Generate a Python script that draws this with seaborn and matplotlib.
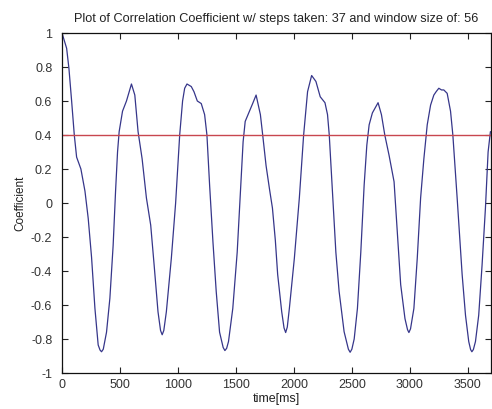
import matplotlib
matplotlib.use("Agg")
import matplotlib.pyplot as plt
import seaborn as sns
import pandas as pd

time_ms = [0, 40, 60, 83, 106, 126, 163, 198, 226, 255, 284, 312, 328, 341, 356, 384, 413, 441, 462, 479, 493, 522,
           556, 599, 628, 656, 691, 728, 765, 794, 828, 850, 864, 878, 900, 943, 980, 1015, 1040, 1058, 1078, 1115, 1138,
           1167, 1201, 1230, 1250, 1273, 1302, 1330, 1359, 1390, 1405, 1420, 1436, 1473, 1511, 1539, 1562, 1580, 1617,
           1645, 1674, 1711, 1731, 1760, 1790, 1815, 1840, 1860, 1895, 1915, 1929, 1943, 1961, 2004, 2047, 2084, 2118, 2153,
           2190, 2227, 2268, 2290, 2305, 2333, 2362, 2390, 2433, 2470, 2485, 2500, 2520, 2548, 2577, 2606, 2629, 2649,
           2677, 2706, 2726, 2755, 2784, 2821, 2864, 2892, 2921, 2958, 2980, 2992, 3006, 3035, 3064, 3093, 3121, 3150,
           3179, 3207, 3227, 3250, 3273, 3293, 3322, 3351, 3371, 3408, 3451, 3480, 3508, 3524, 3535, 3548, 3566, 3594,
           3623, 3652, 3675, 3695]
coefficient = [1.00, 0.91, 0.79, 0.60, 0.40, 0.27, 0.20, 0.07, -0.09, -0.32, -0.62, -0.835, -0.865, -0.875, -0.86,
               -0.76, -0.56, -0.25, 0.07, 0.30, 0.42, 0.54, 0.60, 0.70, 0.635, 0.42, 0.26, 0.03, -0.13, -0.36, -0.64,
               -0.75, -0.775, -0.75, -0.64, -0.325, 0.0, 0.40, 0.60, 0.675, 0.70, 0.685, 0.655, 0.60, 0.585, 0.52,
               0.40, 0.106, -0.23, -0.52, -0.76, -0.85, -0.868, -0.855, -0.815, -0.62, -0.29, 0.066, 0.36, 0.48,
               0.54, 0.586, 0.635, 0.52, 0.40, 0.22, 0.08, -0.03, -0.22, -0.42, -0.64, -0.735, -0.762, -0.73, -0.62,
               -0.325, 0.03, 0.40, 0.655, 0.75, 0.715, 0.625, 0.59, 0.52, 0.40, 0.066, -0.29, -0.52, -0.757, -0.86,
               -0.878, -0.86, -0.80, -0.62, -0.29, 0.106, 0.34, 0.46, 0.53, 0.566, 0.59, 0.52, 0.40, 0.28, 0.125,
               -0.17, -0.48, -0.68, -0.745, -0.762, -0.74, -0.62, -0.325, 0.03, 0.26, 0.46, 0.576, 0.635, 0.655,
               0.675, 0.665, 0.665, 0.645, 0.54, 0.40, 0.03, -0.42, -0.66, -0.815, -0.862, -0.875, -0.862, -0.815,
               -0.66, -0.365, -0.03, 0.30, 0.42]
threshold = 0.4
xticks = [0, 500, 1000, 1500, 2000, 2500, 3000, 3500]
yticks = [-1, -0.8, -0.6, -0.4, -0.2, 0, 0.2, 0.4, 0.6, 0.8, 1]
ytick_labels = ["-1", "-0.8", "-0.6", "-0.4", "-0.2", "0", "0.2", "0.4", "0.6", "0.8", "1"]
title = "Plot of Correlation Coefficient w/ steps taken: 37 and window size of: 56"

sns.set_style("ticks", {"xtick.direction": "in", "ytick.direction": "in"})
plt.rcParams["font.family"] = ["Liberation Sans", "DejaVu Sans"]

df = pd.DataFrame({"time": time_ms, "coef": coefficient})

fig = plt.figure(figsize=(4.92, 4.09), dpi=100)
ax = fig.add_axes([62 / 492, 1 - 373 / 409, (491 - 62) / 492, (373 - 33) / 409])

sns.lineplot(data=df, x="time", y="coef", ax=ax, color="#36368a", linewidth=0.9, estimator=None)
ax.axhline(threshold, color="#c8474f", linewidth=1.0)

ax.set_xlim(0, 3700)
ax.set_ylim(-1, 1)
ax.set_xticks(xticks)
ax.set_xticklabels([str(t) for t in xticks])
ax.set_yticks(yticks)
ax.set_yticklabels(ytick_labels)
ax.tick_params(axis="both", which="both", direction="in", top=True, right=True,
               length=4, width=0.8, labelsize=9, colors="#222222")
ax.tick_params(axis="y", pad=7)
ax.tick_params(axis="x", pad=4)
for lab in ax.get_xticklabels() + ax.get_yticklabels():
    lab.set_color("#333333")
for s in ax.spines.values():
    s.set_visible(True)
    s.set_linewidth(0.9)
    s.set_color("#111111")

ax.set_title(title, fontsize=9.2, color="#222222", pad=8)
ax.set_xlabel("time[ms]", fontsize=9, color="#222222", labelpad=2)
ax.set_ylabel("Coefficient", fontsize=8.5, color="#222222", labelpad=3)

fig.savefig("out.png", dpi=100, facecolor="white")
